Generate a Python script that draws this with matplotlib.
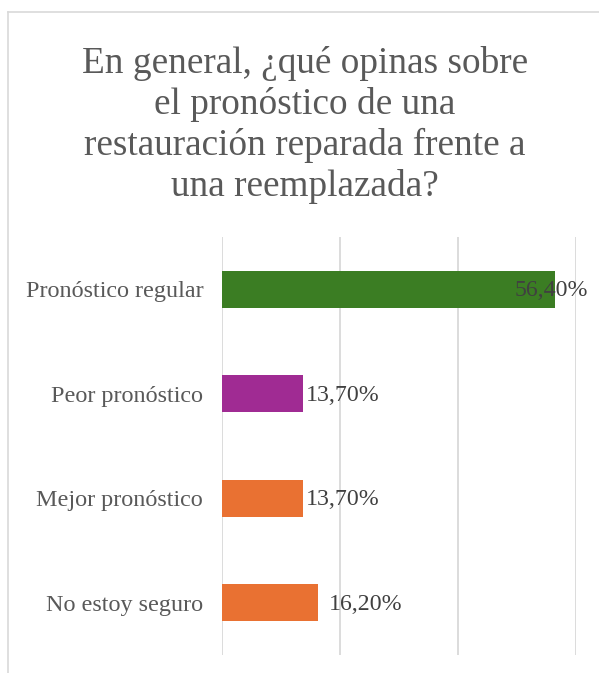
import matplotlib
matplotlib.use('Agg')
import matplotlib.pyplot as plt
from matplotlib.lines import Line2D

categories = ["No estoy seguro", "Mejor pronóstico", "Peor pronóstico", "Pronóstico regular"]
values = [16.2, 13.7, 13.7, 56.4]
labels = ["16,20%", "13,70%", "13,70%", "56,40%"]
colors = ["#E97132", "#E97132", "#A02B93", "#3B7D23"]
# label offsets in pixels from bar end (Excel put them a bit oddly)
offsets = [11, 3, 3, -40]

plt.rcParams['font.family'] = ['Liberation Serif', 'DejaVu Serif']
txt = '#595959'

fig = plt.figure(figsize=(5.99, 6.73), dpi=100)
ax = fig.add_axes([222/599, 1 - 655/673, (576-222)/599, (655-237)/673])

ax.barh(range(len(categories)), values, height=0.35, color=colors, zorder=3)
ax.set_xlim(0, 60)
ax.set_ylim(-0.5, 3.5)
ax.set_xticks([0, 20, 40, 60])
ax.set_xticklabels([])
ax.xaxis.grid(True, color='#D9D9D9', linewidth=1.3, zorder=0)
ax.tick_params(axis='both', length=0)
ax.set_yticks(range(len(categories)))
ax.set_yticklabels(categories, fontsize=17.4, color=txt)
ax.tick_params(axis='y', pad=13.5)
for s in ax.spines.values():
    s.set_visible(False)

for i, (v, lab, off) in enumerate(zip(values, labels, offsets)):
    ax.annotate(lab, (v, i), xytext=(off*0.72, -1), textcoords='offset points',
                ha='left', va='center', fontsize=17.2, color='#404040', zorder=4)

fig.text(305/599, 1 - 125/673,
         "En general, ¿qué opinas sobre\nel pronóstico de una\nrestauración reparada frente a\nuna reemplazada?",
         ha='center', va='center', fontsize=26.8, color=txt, linespacing=1.22)

# chart border (cropped on the right and bottom)
fig.add_artist(Line2D([7.5/599, 7.5/599], [0, 1 - 12/673], transform=fig.transFigure, color='#D9D9D9', linewidth=1.2))
fig.add_artist(Line2D([7.5/599, 1], [1 - 12/673, 1 - 12/673], transform=fig.transFigure, color='#D9D9D9', linewidth=1.2))

fig.savefig('out.png', dpi=100)
